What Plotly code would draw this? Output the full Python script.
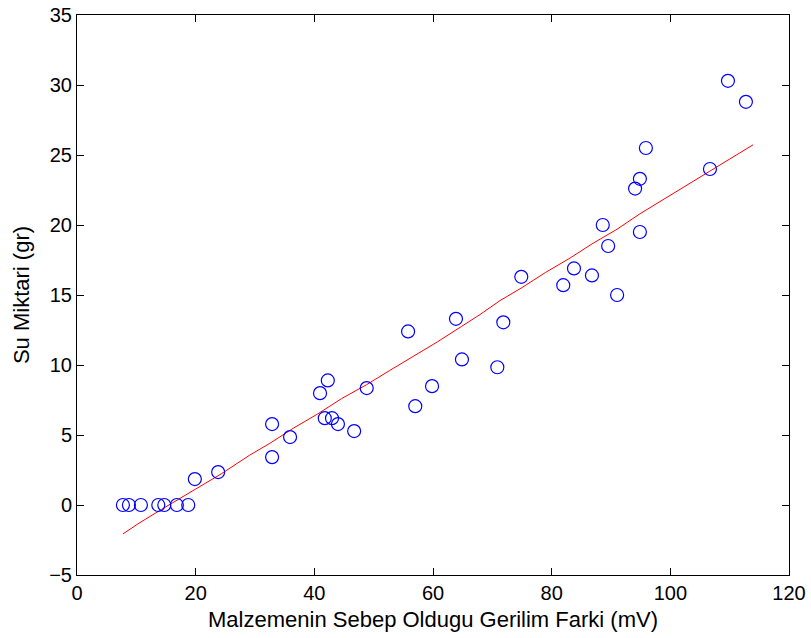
import plotly.graph_objects as go

# measured data (open circles)
voltage_mv = [7.74, 8.75, 10.77, 13.70, 14.71, 16.83, 18.75, 19.86, 23.79, 32.88, 32.88, 35.91,
              40.96, 42.27, 41.76, 42.98, 43.98, 46.71, 48.83, 55.80, 57.01, 59.84, 63.87, 64.88,
              70.84, 71.85, 74.88, 81.95, 83.76, 86.79, 88.61, 89.52, 91.03, 94.06, 94.87, 94.87,
              95.88, 106.68, 109.71, 112.74]
water_gr = [0, 0, 0, 0, 0, 0, 0, 1.85, 2.35, 5.78, 3.42, 4.85,
            7.99, 8.9, 6.2, 6.2, 5.78, 5.28, 8.35, 12.4, 7.06, 8.49, 13.3, 10.4,
            9.84, 13.05, 16.3, 15.7, 16.9, 16.4, 20.0, 18.5, 15.0, 22.6, 23.3, 19.5,
            25.5, 24.0, 30.3, 28.8]

# fitted curve (red line)
fit_x = [7.74, 10.26, 14.30, 19.86, 24.40, 29.14, 32.48, 36.51, 40.55, 44.59, 48.83, 52.67,
         56.71, 60.74, 64.78, 67.91, 71.29, 74.88, 78.92, 82.95, 86.99, 91.03, 94.87, 99.11,
         103.15, 107.19, 111.22, 113.95]
fit_y = [-2.07, -1.35, -0.3, 1.07, 2.25, 3.57, 4.4, 5.5, 6.5, 7.6, 8.6, 9.6,
         10.6, 11.65, 12.75, 13.6, 14.6, 15.5, 16.6, 17.6, 18.7, 19.7, 20.8, 21.9,
         22.95, 24.0, 25.0, 25.73]

fig = go.Figure()
fig.add_trace(go.Scatter(x=fit_x, y=fit_y, mode="lines",
                         line=dict(color="#ff0000", width=1), showlegend=False))
fig.add_trace(go.Scatter(x=voltage_mv, y=water_gr, mode="markers",
                         marker=dict(symbol="circle-open", size=13,
                                     color="#0000ff", line=dict(width=1.2, color="#0000ff")),
                         showlegend=False))

axis_common = dict(showline=True, linecolor="black", linewidth=1, mirror="ticks",
                   ticks="inside", ticklen=7, tickcolor="black", showgrid=False,
                   zeroline=False, ticklabeloverflow="allow", automargin=False,
                   tickfont=dict(size=20, color="black"))

fig.update_layout(
    width=811, height=638,
    margin=dict(l=77, r=22, t=15, b=63),
    paper_bgcolor="white", plot_bgcolor="white",
    font=dict(family="Liberation Sans, Arial, sans-serif", color="black", size=20),
    xaxis=dict(range=[0, 120], dtick=20, tick0=0,
               title=dict(text="Malzemenin Sebep Oldugu Gerilim Farki (mV)",
                          font=dict(size=22), standoff=8), **axis_common),
    yaxis=dict(range=[-5, 35], dtick=5, tick0=-5,
               title=dict(text="Su Miktari (gr)", font=dict(size=22), standoff=13),
               **axis_common),
)

fig.write_html("out.html")
